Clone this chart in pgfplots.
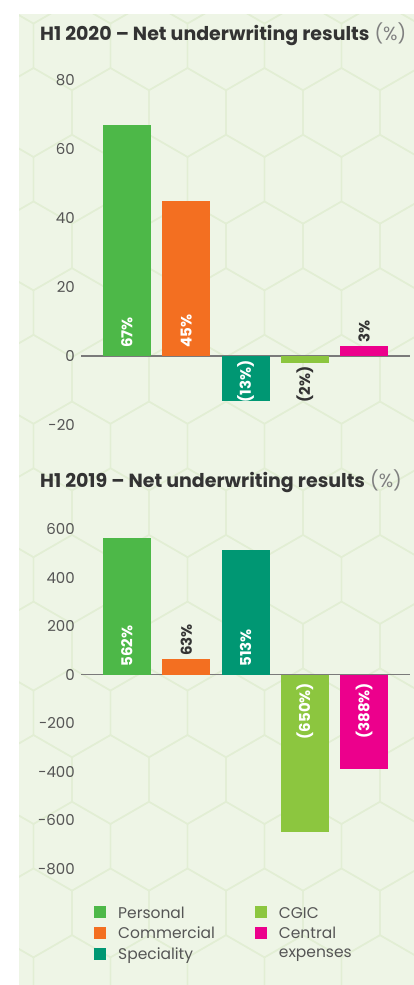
\documentclass[border=0pt]{standalone}
\usepackage{fontspec}
\setmainfont{Poppins}
\usepackage{pgfplots}
\pgfplotsset{compat=1.18}

\definecolor{bgpanel}{HTML}{EEF5E6}
\definecolor{hexline}{HTML}{E2EED4}
\definecolor{cPersonal}{HTML}{4DB848}
\definecolor{cCommercial}{HTML}{F36F21}
\definecolor{cSpeciality}{HTML}{009773}
\definecolor{cCGIC}{HTML}{8CC63F}
\definecolor{cCentral}{HTML}{EC008C}
\definecolor{txt}{HTML}{555555}
\definecolor{ttl}{HTML}{333333}
\definecolor{zeroline}{HTML}{7A7A7A}

\pgfplotsset{
  panel/.style={
    scale only axis, width=329pt, clip=false,
    xmin=-0.776, xmax=4.776, xtick=\empty,
    axis line style={draw=none},
    major tick length=0pt,
    yticklabel style={font=\fontsize{15}{18}\selectfont, text=txt, inner sep=0pt, xshift=-6pt},
    extra y ticks={0}, extra y tick labels={},
    extra y tick style={grid=major, major grid style={draw=zeroline, line width=1.2pt}},
  },
  bar/.style={ybar, bar width=48pt, bar shift=0pt, draw=none, fill=#1,
    legend image code/.code={\fill[##1] (0pt,0pt) rectangle (12pt,12pt);}},
  lbl/.style n args={2}{forget plot, draw=none, mark=none, point meta=explicit symbolic,
    nodes near coords, nodes near coords style={rotate=90, anchor=#2,
      font=\bfseries\fontsize{15}{18}\selectfont, text=#1}},
}

\begin{document}
\begin{tikzpicture}[x=1pt, y=1pt]
\useasboundingbox (0,0) rectangle (414,-985);
\fill[white] (0,0) rectangle (414,-985);
\fill[bgpanel] (19,-14) rectangle (414,-985);
\begin{scope}
  \clip (19,-14) rectangle (414,-985);
  \foreach \r in {-2,...,15}{
    \foreach \k in {-2,...,6}{
      \pgfmathsetmacro\cx{110.5+mod(\r+4,2)*38.5+77*\k}
      \pgfmathsetmacro\cy{112.5+66.7*\r}
      \draw[hexline, line width=1.4pt, shift={(\cx,-\cy)}]
        (30:44.5) -- (90:44.5) -- (150:44.5) -- (210:44.5) -- (270:44.5) -- (330:44.5) -- cycle;
    }
  }
\end{scope}

\node[anchor=base west, inner sep=0pt] at (40,-40)
  {\fontsize{19}{22}\selectfont{\bfseries\color{ttl}H1 2020 – Net underwriting results} {\color{gray}(\%)}};
\node[anchor=base west, inner sep=0pt] at (40,-487)
  {\fontsize{19}{22}\selectfont{\bfseries\color{ttl}H1 2019 – Net underwriting results} {\color{gray}(\%)}};

% H1 2020
\begin{axis}[panel, at={(81pt,-62.75pt)}, anchor=north west, height=379.5pt,
  ymin=-25, ymax=85, ytick={-20,0,20,40,60,80},
  yticklabels={-20,0,20,40,60,80}]
  \addplot[bar=cPersonal] coordinates {(0,67)};
  \addplot[bar=cCommercial] coordinates {(1,45)};
  \addplot[bar=cSpeciality] coordinates {(2,-13)};
  \addplot[bar=cCGIC] coordinates {(3,-2)};
  \addplot[bar=cCentral] coordinates {(4,3)};
  \addplot[lbl={white}{west}, nodes near coords style={inner xsep=8pt}] coordinates {(0,0) [67\%] (1,0) [45\%]};
  \addplot[lbl={white}{east}, nodes near coords style={inner xsep=4pt}] coordinates {(2,0) [(13\%)]};
  \addplot[lbl={ttl}{east}] coordinates {(3,-2) [(2\%)]};
  \addplot[lbl={ttl}{west}] coordinates {(4,3) [3\%]};
\end{axis}

% H1 2019
\begin{axis}[panel, at={(81pt,-505pt)}, anchor=north west, height=388pt,
  ymin=-900, ymax=700, ytick={-800,-600,-400,-200,0,200,400,600},
  yticklabels={-800,-600,-400,-200,0,200,400,600},
  legend columns=2,
  legend style={at={(0.0395,-0.025)}, anchor=north west, draw=none, fill=none,
    inner sep=0pt, font=\fontsize{15.5}{19}\selectfont, text=txt,
    cells={anchor=base west, inner sep=0pt}, row sep=2pt,
    /tikz/every odd column/.append style={column sep=10pt},
    /tikz/every even column/.append style={column sep=38pt}}]
  \addplot[bar=cPersonal] coordinates {(0,562)};
  \addlegendentry{\strut Personal}
  \addplot[bar=cCGIC] coordinates {(3,-650)};
  \addlegendentry{\strut CGIC}
  \addplot[bar=cCommercial] coordinates {(1,63)};
  \addlegendentry{\strut Commercial}
  \addplot[bar=cCentral] coordinates {(4,-388)};
  \addlegendentry{\strut\smash{\begin{tabular}[t]{@{}l@{}}Central\\expenses\end{tabular}}}
  \addplot[bar=cSpeciality] coordinates {(2,513)};
  \addlegendentry{\strut Speciality}
  \addplot[lbl={white}{west}, nodes near coords style={inner xsep=8pt}] coordinates {(0,0) [562\%] (2,0) [513\%]};
  \addplot[lbl={white}{east}, nodes near coords style={inner xsep=8pt}] coordinates {(3,0) [(650\%)] (4,0) [(388\%)]};
  \addplot[lbl={ttl}{west}] coordinates {(1,63) [63\%]};
\end{axis}
\end{tikzpicture}
\end{document}
